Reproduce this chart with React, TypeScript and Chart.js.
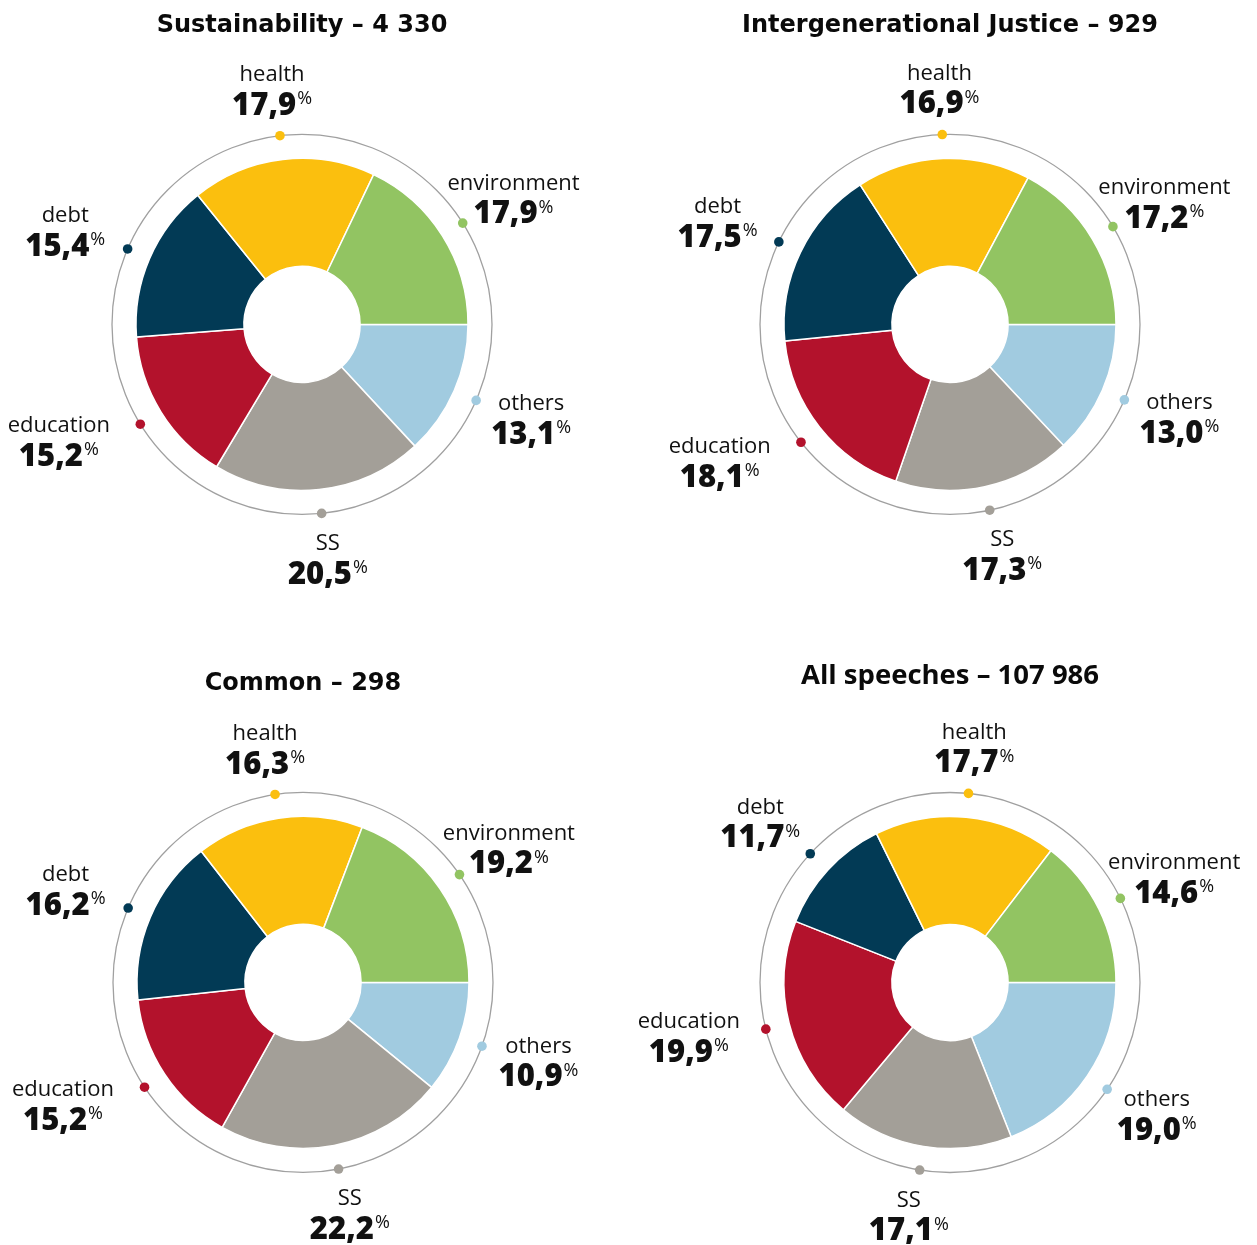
import React, { useEffect, useRef } from 'react';
import { Chart, registerables } from 'chart.js';

Chart.register(...registerables);

// ---- data ----
const categories = ['others', 'SS', 'education', 'debt', 'health', 'environment'];
const sliceColors = ['#a1cbe0', '#a39f98', '#b3122c', '#023a55', '#fbbf0e', '#92c462'];
const sustainabilityValues = [13.1, 20.5, 15.2, 15.4, 17.9, 17.9];
const intergenerationalValues = [13.0, 17.3, 18.1, 17.5, 16.9, 17.2];
const commonValues = [10.9, 22.2, 15.2, 16.2, 16.3, 19.2];
const allSpeechesValues = [19.0, 17.1, 19.9, 11.7, 17.7, 14.6];
const chartTitles = [
  'Sustainability – 4 330',
  'Intergenerational Justice – 929',
  'Common – 298',
  'All speeches – 107 986',
];

// ---- layout (page coordinates) ----
const W = 640;
const H = 640;
const TITLE_PAD = 4;
const panels = [
  { values: sustainabilityValues, title: chartTitles[0], cx: 302, cy: 324, titleY: 25, titleSize: 24, titleFamily: '"DejaVu Sans", sans-serif' },
  { values: intergenerationalValues, title: chartTitles[1], cx: 950, cy: 324, titleY: 25, titleSize: 24, titleFamily: '"DejaVu Sans", sans-serif' },
  { values: commonValues, title: chartTitles[2], cx: 303, cy: 982, titleY: 683, titleSize: 24, titleFamily: '"DejaVu Sans", sans-serif' },
  { values: allSpeechesValues, title: chartTitles[3], cx: 950, cy: 982, titleY: 676, titleSize: 27.5, titleFamily: '"Open Sans", sans-serif' },
];

const LABEL_FAMILY = '"Open Sans", sans-serif';

const ringPlugin = {
  id: 'ringLabels',
  afterDatasetsDraw(chart: any) {
    const ctx = chart.ctx as CanvasRenderingContext2D;
    const meta = chart.getDatasetMeta(0);
    const ds = chart.data.datasets[0];
    const arcs = meta.data as any[];
    if (!arcs.length) return;
    const { x, y, outerRadius } = arcs[0].getProps(['x', 'y', 'outerRadius'], true);
    const ringR = outerRadius + 24;
    ctx.save();
    ctx.beginPath();
    ctx.arc(x, y, ringR, 0, Math.PI * 2);
    ctx.strokeStyle = '#a0a0a0';
    ctx.lineWidth = 1.3;
    ctx.stroke();

    arcs.forEach((arc, i) => {
      const { startAngle, endAngle } = arc.getProps(['startAngle', 'endAngle'], true);
      const mid = (startAngle + endAngle) / 2;
      const c = Math.cos(mid);
      const s = Math.sin(mid);
      // dot
      ctx.beginPath();
      ctx.arc(x + ringR * c, y + ringR * s, 4.8, 0, Math.PI * 2);
      ctx.fillStyle = ds.backgroundColor[i];
      ctx.fill();
      // label block (elliptical placement around the ring)
      const rx = outerRadius + (c < 0 ? 92 : 84);
      const ry = outerRadius + 70;
      let bx = x + rx * c;
      let by = y + ry * s;
      if (c < -0.5 && s > 0) {
        bx -= 45 * s;
        by -= 14 * s;
      }
      ctx.fillStyle = '#111';
      ctx.textBaseline = 'middle';
      ctx.textAlign = 'center';
      ctx.font = `400 22px ${LABEL_FAMILY}`;
      ctx.fillText(chart.data.labels[i], bx, by - 15);

      const num = Number(ds.data[i]).toFixed(1).replace('.', ',');
      ctx.font = `800 31px ${LABEL_FAMILY}`;
      const nw = ctx.measureText(num).width;
      ctx.font = `400 18px ${LABEL_FAMILY}`;
      const pw = ctx.measureText('%').width;
      const total = nw + pw + 1;
      const sx = bx - total / 2;
      ctx.textAlign = 'left';
      ctx.font = `800 31px ${LABEL_FAMILY}`;
      ctx.fillText(num, sx, by + 16);
      ctx.font = `400 18px ${LABEL_FAMILY}`;
      ctx.fillText('%', sx + nw + 1, by + 9);
    });
    ctx.restore();
  },
};

function Panel({ p }: { p: any }) {
  const ref = useRef<HTMLCanvasElement | null>(null);
  const lh = p.titleSize * 1.2;
  const top = p.titleY - TITLE_PAD - lh / 2;
  const left = p.cx - W / 2;
  const chartTop = top + TITLE_PAD + lh;
  const padBottom = top + H - (2 * p.cy - chartTop);

  useEffect(() => {
    if (!ref.current) return;
    const chart = new Chart(ref.current, {
      type: 'doughnut',
      data: {
        labels: categories,
        datasets: [
          {
            data: p.values,
            backgroundColor: sliceColors,
            borderColor: '#ffffff',
            borderWidth: 1.5,
            hoverOffset: 0,
          },
        ],
      },
      options: {
        animation: false,
        responsive: false,
        maintainAspectRatio: false,
        events: [],
        rotation: 90,
        radius: 166,
        cutout: '35%',
        layout: { padding: { top: 0, left: 0, right: 0, bottom: padBottom } },
        plugins: {
          legend: { display: false },
          tooltip: { enabled: false },
          title: {
            display: true,
            text: p.title,
            color: '#0a0a0a',
            font: { family: p.titleFamily, size: p.titleSize, weight: 'bold', lineHeight: 1.2 },
            padding: { top: TITLE_PAD, bottom: 0 },
          },
        },
      } as any,
      plugins: [ringPlugin],
    });
    return () => chart.destroy();
  }, []);

  return (
    <canvas
      ref={ref}
      width={W}
      height={H}
      style={{ position: 'absolute', left, top, width: W, height: H }}
    />
  );
}

export default function App() {
  return (
    <div
      style={{
        position: 'absolute',
        left: 0,
        top: 0,
        width: 1257,
        height: 1245,
        overflow: 'hidden',
        background: '#fff',
      }}
    >
      {panels.map((p, i) => (
        <Panel key={i} p={p} />
      ))}
    </div>
  );
}
